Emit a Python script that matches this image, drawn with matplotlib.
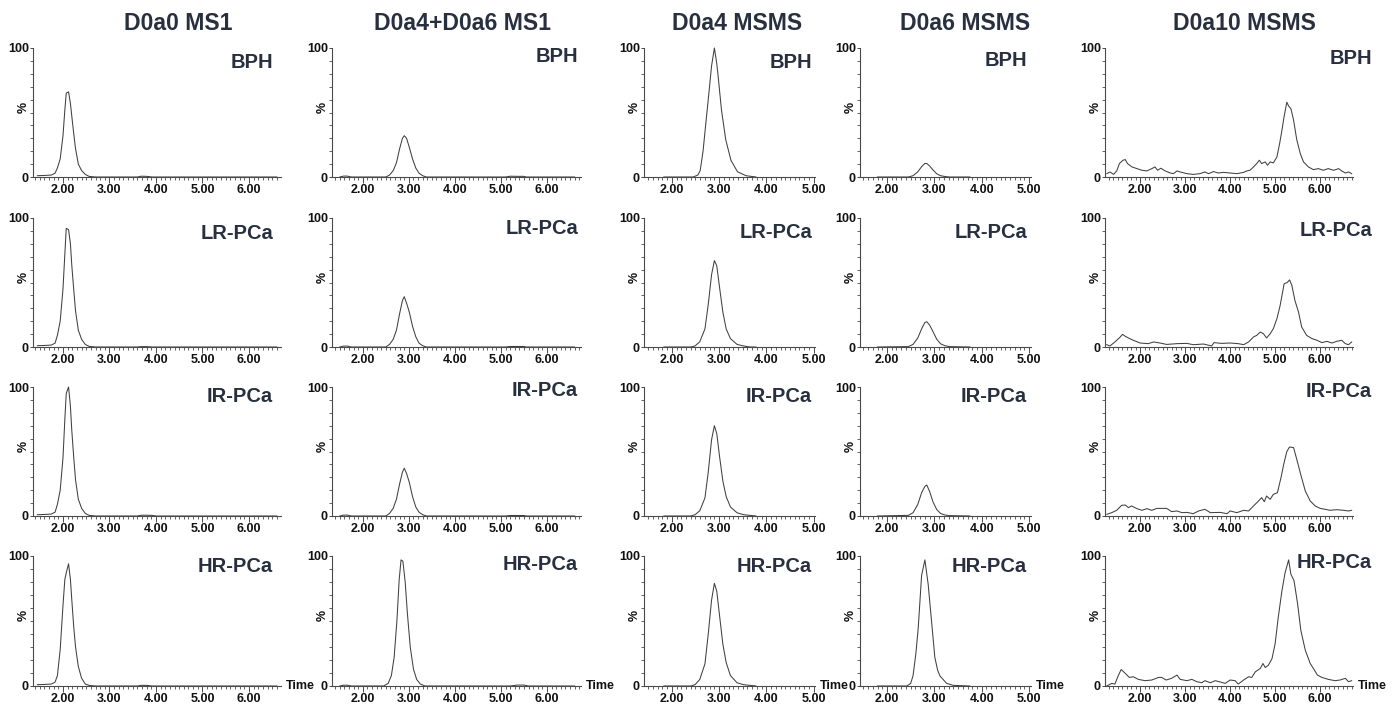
import matplotlib
matplotlib.use("Agg")
import matplotlib.pyplot as plt
from matplotlib.ticker import MultipleLocator, FixedLocator, FormatStrFormatter

plt.rcParams['font.family'] = ['Liberation Sans', 'DejaVu Sans']
plt.rcParams['font.weight'] = 'bold'

# ---------------- data ----------------
column_titles = ["D0a0 MS1", "D0a4+D0a6 MS1", "D0a4 MSMS", "D0a6 MSMS", "D0a10 MSMS"]
sample_labels = ["BPH", "LR-PCa", "IR-PCa", "HR-PCa"]
x_tick_values = [2.0, 3.0, 4.0, 5.0, 6.0]
y_tick_labels = ["0", "100"]

# Column 1: D0a0 MS1
c1_t = [1.45, 1.60, 1.75, 1.83, 1.88, 1.94, 2.00, 2.04, 2.07, 2.12, 2.16, 2.19, 2.23,
        2.27, 2.33, 2.40, 2.48, 2.56, 2.70, 3.60, 3.68, 3.80, 3.92, 4.00, 6.60]
c1_bph = [1.0, 1.2, 1.5, 3, 7, 14, 32, 52, 65, 66, 57, 47, 34,
          22, 10, 5, 2, 0.5, 0, 0, 0.6, 0.5, 0, 0, 0]
c1_lr = [1.0, 1.2, 1.5, 3, 9, 20, 45, 72, 92, 91, 80, 63, 45,
         28, 13, 6, 2, 0.5, 0, 0, 0.3, 0.3, 0, 0, 0]
c1_ir = [1.0, 1.2, 1.5, 3, 9, 20, 45, 75, 95, 100, 85, 66, 46,
         28, 13, 6, 2, 0.5, 0, 0, 0.6, 0.6, 0.5, 0, 0]
c1_hr = [1.0, 1.2, 1.5, 3, 8, 28, 62, 82, 87, 94, 82, 66, 46,
         30, 15, 6, 1.5, 0.5, 0, 0, 0.5, 0.5, 0, 0, 0]

# Column 2: D0a4+D0a6 MS1
c2_t = [1.50, 1.58, 1.66, 1.75, 2.50, 2.58, 2.66, 2.73, 2.80, 2.86, 2.90, 2.95, 3.01,
        3.08, 3.15, 3.22, 3.30, 3.38, 5.10, 5.20, 5.35, 5.50, 5.55, 6.60]
c2_bph = [0, 0.7, 0.7, 0, 0, 1.5, 5, 11, 22, 30, 32, 30, 23,
          14, 7, 3, 1, 0, 0, 0.6, 0.5, 0.5, 0, 0]
c2_lr = [0, 0.7, 0.7, 0, 0, 2, 6, 13, 26, 36, 39, 34, 27,
         16, 8, 3, 1, 0, 0, 0.4, 0.4, 0.4, 0, 0]
c2_ir = [0, 0.7, 0.7, 0, 0, 2, 6, 13, 25, 34, 37, 33, 26,
         15, 7, 3, 1, 0, 0, 0.4, 0.4, 0.4, 0, 0]
c2_hr_t = [1.50, 1.58, 1.66, 1.75, 2.45, 2.55, 2.62, 2.68, 2.74, 2.79, 2.83, 2.87, 2.92,
           2.97, 3.03, 3.10, 3.17, 3.25, 3.35, 5.20, 5.35, 5.50, 5.60, 6.60]
c2_hr = [0, 0.6, 0.6, 0, 0, 2, 8, 22, 50, 82, 97, 96, 80,
         55, 30, 13, 5, 1.5, 0, 0, 0.7, 0.7, 0, 0]

# Column 3: D0a4 MSMS
c3_bph_t = [1.83, 2.45, 2.55, 2.60, 2.66, 2.72, 2.77, 2.84, 2.90, 2.95, 2.98, 3.05,
            3.14, 3.25, 3.39, 3.57, 3.78]
c3_bph = [0, 0, 1.5, 5, 20, 42, 60, 86, 100, 88, 78, 52, 29, 13, 4, 1, 0]
c3_t = [1.83, 2.40, 2.49, 2.59, 2.70, 2.77, 2.84, 2.90, 2.95, 3.01, 3.08, 3.15,
        3.24, 3.38, 3.52, 3.65, 3.78]
c3_lr = [0, 0, 0.8, 4, 14, 33, 56, 67, 63, 46, 27, 14, 6.5, 2, 0.8, 0, 0]
c3_ir = [0, 0, 1, 4, 14, 34, 59, 70, 64, 46, 27, 15, 7, 2.5, 1, 0.5, 0]
c3_hr = [0, 0, 1, 5, 17, 40, 66, 79, 73, 54, 32, 18, 8, 2.5, 1, 0.5, 0]

# Column 4: D0a6 MSMS
c4_t = [1.80, 2.45, 2.55, 2.65, 2.73, 2.80, 2.84, 2.90, 2.97, 3.05, 3.13, 3.22, 3.32, 3.75]
c4_bph = [0, 0, 1, 4, 8, 10.5, 10.5, 8.5, 5.5, 2.5, 1, 0.4, 0, 0]
c4_lr = [0, 0.3, 2, 7, 14, 19, 19.6, 17, 12, 6, 2.5, 1, 0.3, 0]
c4_ir = [0, 0.5, 2.5, 9, 18, 23, 24, 19, 11, 5, 2, 0.8, 0.3, 0]
c4_hr_t = [1.80, 2.42, 2.50, 2.55, 2.61, 2.66, 2.73, 2.80, 2.87, 2.94, 3.01, 3.07,
           3.12, 3.26, 3.40, 3.75]
c4_hr = [0, 0, 2, 8, 25, 45, 85, 97, 78, 50, 22, 12, 7.6, 2, 0.5, 0]

# Column 5: D0a10 MSMS
c5_bph_t = [1.26, 1.33, 1.41, 1.48, 1.54, 1.62, 1.67, 1.72, 1.82, 1.93, 2.04, 2.15, 2.26,
            2.33, 2.39, 2.46, 2.56, 2.67, 2.74, 2.82, 2.89, 3.04, 3.18, 3.33, 3.44, 3.52,
            3.63, 3.74, 3.85, 4.00, 4.15, 4.30, 4.37, 4.44, 4.52, 4.59, 4.65, 4.70, 4.78,
            4.83, 4.89, 4.96, 5.04, 5.10, 5.15, 5.20, 5.26, 5.30, 5.35, 5.41, 5.48, 5.56,
            5.63, 5.74, 5.85, 5.96, 6.07, 6.18, 6.30, 6.41, 6.48, 6.56, 6.63, 6.70]
c5_bph = [2.6, 3.9, 2.0, 4.7, 10.4, 13.0, 13.5, 10.4, 7.8, 6.5, 5.2, 4.7, 6.5,
          7.8, 5.2, 6.8, 4.7, 3.1, 2.6, 4.7, 3.9, 2.6, 2.0, 2.6, 3.9, 2.6,
          4.2, 3.1, 3.6, 3.1, 2.6, 3.6, 4.7, 5.2, 7.8, 10.4, 13.0, 10.4, 11.7,
          9.1, 11.7, 10.9, 15.6, 26, 36, 47, 58, 55, 53, 44, 29, 18,
          11.7, 7.8, 5.7, 6.5, 5.2, 6.5, 5.2, 6.5, 4.7, 3.1, 3.9, 2.6]
c5_lr_t = [1.26, 1.33, 1.44, 1.56, 1.61, 1.67, 1.74, 1.85, 2.00, 2.18, 2.30, 2.44, 2.59,
           2.82, 3.04, 3.18, 3.41, 3.59, 3.64, 3.81, 4.00, 4.18, 4.30, 4.41, 4.52, 4.59,
           4.67, 4.74, 4.81, 4.89, 4.96, 5.04, 5.11, 5.20, 5.27, 5.32, 5.37, 5.44, 5.52,
           5.59, 5.70, 5.82, 5.93, 6.04, 6.15, 6.26, 6.37, 6.48, 6.56, 6.63, 6.70]
c5_lr = [1.8, 0.8, 3.9, 7.8, 9.8, 8.3, 7.0, 5.2, 3.1, 2.6, 3.9, 3.1, 2.0,
         2.6, 2.8, 1.8, 2.3, 0.8, 3.4, 2.8, 3.1, 2.6, 1.8, 3.9, 7.8, 9.0,
         11.6, 10.3, 7.0, 10.3, 14.2, 22, 32, 49, 50, 52, 48, 36, 27,
         15.5, 9.0, 6.5, 5.2, 3.4, 4.4, 3.1, 4.4, 5.2, 2.6, 1.8, 3.9]
c5_ir_t = [1.26, 1.37, 1.48, 1.59, 1.67, 1.74, 1.81, 1.93, 2.04, 2.15, 2.26, 2.37, 2.59,
           2.70, 2.82, 2.93, 3.04, 3.18, 3.30, 3.44, 3.56, 3.78, 3.93, 4.00, 4.15, 4.30,
           4.41, 4.52, 4.63, 4.70, 4.76, 4.81, 4.89, 4.96, 5.05, 5.13, 5.19, 5.26, 5.32,
           5.41, 5.48, 5.57, 5.67, 5.78, 5.89, 6.00, 6.11, 6.22, 6.37, 6.52, 6.63, 6.70]
c5_ir = [1.3, 2.6, 4.4, 8.3, 8.5, 6.5, 7.8, 5.7, 4.4, 5.7, 4.4, 5.9, 5.9,
         3.4, 3.9, 2.6, 2.8, 1.8, 3.9, 5.2, 2.6, 2.8, 1.8, 3.9, 2.6, 4.4,
         3.9, 7.8, 11.6, 14.2, 11.1, 15.5, 12.9, 16.8, 18, 29.7, 40, 50, 53.5,
         53, 44, 32, 19.4, 11.6, 7.8, 5.9, 5.2, 4.4, 4.9, 4.4, 3.9, 4.4]
c5_hr_t = [1.26, 1.37, 1.44, 1.52, 1.58, 1.67, 1.76, 1.85, 1.96, 2.11, 2.26, 2.41, 2.48,
           2.58, 2.70, 2.82, 2.89, 3.04, 3.15, 3.26, 3.37, 3.44, 3.56, 3.67, 3.78, 3.89,
           4.00, 4.11, 4.18, 4.30, 4.41, 4.48, 4.56, 4.67, 4.73, 4.78, 4.85, 4.93, 5.00,
           5.07, 5.15, 5.22, 5.30, 5.35, 5.42, 5.50, 5.57, 5.67, 5.78, 5.85, 5.94, 6.04,
           6.18, 6.33, 6.44, 6.56, 6.63, 6.70]
c5_hr = [0.0, 2.0, 1.5, 8.4, 12.7, 9.7, 6.6, 7.1, 5.1, 4.1, 4.6, 6.6, 6.6,
         4.6, 5.9, 8.4, 5.1, 4.1, 5.1, 3.3, 2.5, 4.1, 2.5, 4.1, 3.1, 2.0,
         4.6, 4.1, 1.5, 4.6, 7.1, 6.6, 10.9, 13.5, 17.3, 14.2, 16.0, 21, 32.6,
         53, 73, 87, 97, 86, 81, 63, 43, 27.5, 17.3, 13.5, 8.4, 6.6,
         5.1, 4.1, 4.6, 5.9, 3.3, 4.1]

series = [
    [(c1_t, c1_bph), (c2_t, c2_bph), (c3_bph_t, c3_bph), (c4_t, c4_bph), (c5_bph_t, c5_bph)],
    [(c1_t, c1_lr), (c2_t, c2_lr), (c3_t, c3_lr), (c4_t, c4_lr), (c5_lr_t, c5_lr)],
    [(c1_t, c1_ir), (c2_t, c2_ir), (c3_t, c3_ir), (c4_t, c4_ir), (c5_ir_t, c5_ir)],
    [(c1_t, c1_hr), (c2_hr_t, c2_hr), (c3_t, c3_hr), (c4_hr_t, c4_hr), (c5_hr_t, c5_hr)],
]

# ---------------- layout (pixels) ----------------
W, H = 1400, 704
col_px = [(33, 281), (332, 581), (644, 815), (860, 1031), (1105, 1353)]
row_px = [(48, 177), (218, 347), (387, 516), (556, 686)]
col_xlim = [(1.355, 6.69), (1.33, 6.74), (1.41, 5.03), (1.43, 5.04), (1.22, 6.73)]
title_x = [178, 462, 737, 965, 1244]
label_right = [273, 578, 812, 1027, 1372]
label_dy = [[15, 9, 15, 13, 10],
            [15, 10, 14, 14, 12],
            [9, 4, 9, 9, 5],
            [11, 8, 11, 10, 6]]

fig = plt.figure(figsize=(W / 100, H / 100), dpi=100)
fig.patch.set_facecolor('white')

axis_color = '#4a4a4a'
line_color = '#404040'
text_dark = '#283040'
tick_fs = 9.0

for c in range(5):
    fig.text(title_x[c] / W, 1 - 23 / H, column_titles[c], ha='center', va='center',
             fontsize=16.6, color=text_dark, fontweight='bold')

for r in range(4):
    top, bot = row_px[r]
    for c in range(5):
        left, right = col_px[c]
        ax = fig.add_axes([left / W, 1 - bot / H, (right - left) / W, (bot - top) / H])
        t, y = series[r][c]
        ax.plot(t, y, color=line_color, lw=0.75, clip_on=False)
        ax.set_xlim(*col_xlim[c])
        ax.set_ylim(0, 100)
        for s in ['top', 'right']:
            ax.spines[s].set_visible(False)
        for s in ['left', 'bottom']:
            ax.spines[s].set_color(axis_color)
            ax.spines[s].set_linewidth(0.8)
        xt = [v for v in x_tick_values if col_xlim[c][0] <= v <= col_xlim[c][1] + 0.01]
        ax.xaxis.set_major_locator(FixedLocator(xt))
        ax.xaxis.set_major_formatter(FormatStrFormatter('%.2f'))
        ax.xaxis.set_minor_locator(MultipleLocator(0.1))
        ax.yaxis.set_major_locator(FixedLocator([0, 100]))
        ax.set_yticklabels(y_tick_labels)
        ax.yaxis.set_minor_locator(MultipleLocator(10))
        ax.tick_params(axis='x', which='major', direction='out', length=4, width=0.7,
                       color=axis_color, labelsize=tick_fs, pad=1.2, labelcolor='#111111')
        ax.tick_params(axis='x', which='minor', direction='out', length=2.3, width=0.6,
                       color=axis_color)
        ax.tick_params(axis='y', which='major', direction='out', length=2.5, width=0.7,
                       color=axis_color, labelsize=tick_fs, pad=0.5, labelcolor='#111111')
        ax.tick_params(axis='y', which='minor', direction='out', length=2.3, width=0.6,
                       color=axis_color)
        ax.patch.set_alpha(0)
        # percent label
        fig.text((left - 9) / W, 1 - (top + 0.46 * (bot - top)) / H, '%', rotation=90,
                 ha='center', va='center', fontsize=tick_fs, color='#111111')
        # sample label
        fig.text(label_right[c] / W, 1 - (top + label_dy[r][c]) / H, sample_labels[r],
                 ha='right', va='center', fontsize=14.5, color=text_dark, fontweight='bold')
        if r == 3:
            ax.annotate('Time', xy=(1, 0), xycoords='axes fraction', xytext=(3.2, 0),
                        textcoords='offset points', ha='left', va='center',
                        fontsize=tick_fs, color='#111111')

fig.savefig('out.png', dpi=100)
